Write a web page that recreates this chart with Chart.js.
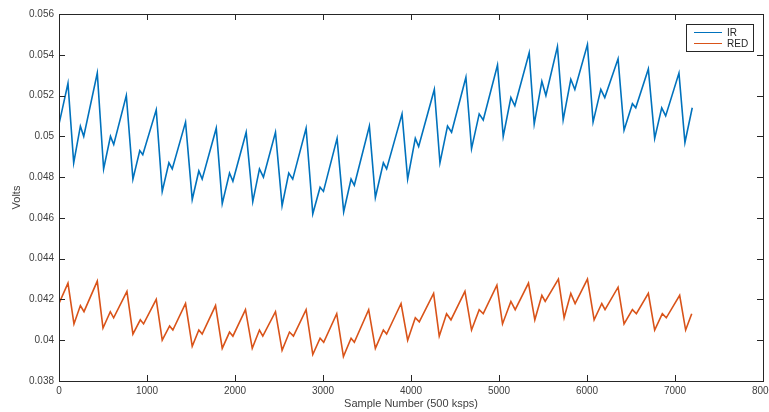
<!DOCTYPE html>
<html>
<head>
<meta charset="utf-8">
<script src="https://cdn.jsdelivr.net/npm/chart.js@4/dist/chart.umd.min.js"></script>
<style>
  body { margin: 0; background: #fff; }
  #wrap { width: 769px; height: 412px; position: relative; }
</style>
</head>
<body>
<div id="wrap"><canvas id="ppg"></canvas></div>
<script>
// Values: sample number + volts at peaks, troughs and dicrotic notches
const irSamples = [0, 102, 167, 243, 281, 435, 507, 585, 622, 765, 840, 918, 952, 1105, 1173, 1249, 1287,
  1438, 1514, 1589, 1627, 1787, 1855, 1938, 1976, 2127, 2202, 2278, 2323, 2460, 2535, 2611, 2656,
  2808, 2884, 2967, 3005, 3160, 3235, 3319, 3356, 3527, 3595, 3686, 3723, 3898, 3962, 4049, 4087,
  4265, 4329, 4415, 4461, 4624, 4688, 4775, 4821, 4983, 5048, 5135, 5180, 5343, 5400, 5487, 5533,
  5664, 5729, 5816, 5862, 6005, 6069, 6157, 6202, 6353, 6421, 6516, 6554, 6697, 6769, 6849, 6894,
  7045, 7113, 7196];
const irVolts = [0.0506, 0.0526, 0.0487, 0.0505, 0.0500, 0.0531, 0.0484, 0.0500, 0.0496, 0.0520, 0.0479, 0.0493, 0.0491, 0.0513, 0.0473, 0.0487, 0.0484,
  0.0507, 0.0469, 0.0483, 0.0479, 0.0504, 0.0467, 0.0482, 0.0478, 0.0502, 0.0468, 0.0484, 0.0480, 0.0502, 0.0466, 0.0482, 0.0479,
  0.0504, 0.0462, 0.0475, 0.0473, 0.0499, 0.0463, 0.0479, 0.0476, 0.0505, 0.0470, 0.0487, 0.0484, 0.0511, 0.0479, 0.0499, 0.0495,
  0.0523, 0.0487, 0.0505, 0.0502, 0.0529, 0.0494, 0.0511, 0.0508, 0.0535, 0.0500, 0.0519, 0.0515, 0.0541, 0.0506, 0.0527, 0.0520,
  0.0544, 0.0508, 0.0528, 0.0523, 0.0545, 0.0507, 0.0523, 0.0519, 0.0538, 0.0503, 0.0516, 0.0514, 0.0533, 0.0499, 0.0514, 0.0510,
  0.0531, 0.0497, 0.0514];

const redSamples = [0, 102, 170, 243, 284, 435, 500, 583, 621, 772, 840, 924, 961, 1105, 1173, 1257, 1294,
  1438, 1514, 1589, 1627, 1779, 1855, 1938, 1976, 2119, 2196, 2278, 2316, 2460, 2535, 2619, 2664,
  2808, 2884, 2967, 3008, 3156, 3232, 3319, 3356, 3519, 3595, 3686, 3723, 3887, 3962, 4049, 4094,
  4257, 4321, 4404, 4454, 4613, 4688, 4775, 4821, 4976, 5040, 5135, 5184, 5335, 5407, 5487, 5525,
  5675, 5740, 5816, 5865, 6005, 6081, 6168, 6205, 6353, 6421, 6516, 6561, 6697, 6769, 6856, 6901,
  7053, 7121, 7190];
const redVolts = [0.0418, 0.0428, 0.0408, 0.0417, 0.0414, 0.0429, 0.0406, 0.0414, 0.0411, 0.0424, 0.0403, 0.0410, 0.0408, 0.0420, 0.0400, 0.0407, 0.0405,
  0.0418, 0.0397, 0.0405, 0.0403, 0.0417, 0.0396, 0.0404, 0.0402, 0.0415, 0.0396, 0.0405, 0.0402, 0.0414, 0.0395, 0.0404, 0.0402,
  0.0415, 0.0393, 0.0401, 0.0399, 0.0413, 0.0392, 0.0401, 0.0399, 0.0415, 0.0396, 0.0405, 0.0403, 0.0418, 0.0400, 0.0411, 0.0409,
  0.0423, 0.0402, 0.0413, 0.0410, 0.0424, 0.0405, 0.0415, 0.0413, 0.0427, 0.0408, 0.0419, 0.0415, 0.0428, 0.0410, 0.0422, 0.0419,
  0.0430, 0.0411, 0.0423, 0.0418, 0.0430, 0.0410, 0.0418, 0.0415, 0.0426, 0.0408, 0.0415, 0.0413, 0.0423, 0.0405, 0.0413, 0.0411,
  0.0422, 0.0405, 0.0413];

const seriesNames = ['IR', 'RED'];
const seriesColors = ['#0072BD', '#D95319'];
const xRange = [0, 8000];
const yRange = [0.038, 0.056];

const FONT = "'Liberation Sans', Arial, sans-serif";
const INK = '#262626';
const TICK = 6;

const toPoints = (xs, ys) => xs.map((s, i) => ({ x: s, y: ys[i] }));

// matlab style box: frame, inward ticks on all four sides, legend in the corner
const boxPlugin = {
  id: 'matlabBox',
  afterDraw(chart) {
    const { ctx, chartArea: a, scales: { x, y } } = chart;
    ctx.save();
    ctx.strokeStyle = INK;
    ctx.lineWidth = 1;
    ctx.strokeRect(a.left + 0.5, a.top + 0.5, a.right - a.left, a.bottom - a.top);

    ctx.beginPath();
    x.ticks.forEach(t => {
      const px = Math.round(x.getPixelForValue(t.value)) + 0.5;
      ctx.moveTo(px, a.bottom); ctx.lineTo(px, a.bottom - TICK);
      ctx.moveTo(px, a.top); ctx.lineTo(px, a.top + TICK);
    });
    y.ticks.forEach(t => {
      const py = Math.round(y.getPixelForValue(t.value)) + 0.5;
      ctx.moveTo(a.left, py); ctx.lineTo(a.left + TICK, py);
      ctx.moveTo(a.right, py); ctx.lineTo(a.right - TICK, py);
    });
    ctx.stroke();

    // legend
    const w = 67, h = 27;
    const lx = a.right - 10 - w, ly = a.top + 10;
    ctx.fillStyle = '#fff';
    ctx.fillRect(lx, ly, w, h);
    ctx.strokeRect(lx + 0.5, ly + 0.5, w, h);
    ctx.font = '10px ' + FONT;
    ctx.textBaseline = 'middle';
    chart.data.datasets.forEach((ds, i) => {
      const rowY = ly + 8 + i * 11;
      ctx.strokeStyle = ds.borderColor;
      ctx.beginPath();
      ctx.moveTo(lx + 8, rowY + 0.5);
      ctx.lineTo(lx + 36, rowY + 0.5);
      ctx.stroke();
      ctx.fillStyle = INK;
      ctx.fillText(ds.label, lx + 41, rowY + 1);
    });
    ctx.restore();
  }
};

new Chart(document.getElementById('ppg'), {
  type: 'line',
  data: {
    datasets: [
      {
        label: seriesNames[0],
        data: toPoints(irSamples, irVolts),
        borderColor: seriesColors[0],
        borderWidth: 1.6,
        pointRadius: 0,
        tension: 0
      },
      {
        label: seriesNames[1],
        data: toPoints(redSamples, redVolts),
        borderColor: seriesColors[1],
        borderWidth: 1.6,
        pointRadius: 0,
        tension: 0
      }
    ]
  },
  options: {
    responsive: true,
    maintainAspectRatio: false,
    animation: false,
    layout: { padding: { top: 14, right: 6, left: 0, bottom: 0 } },
    plugins: {
      legend: { display: false },
      tooltip: { enabled: false }
    },
    scales: {
      x: {
        type: 'linear',
        min: xRange[0],
        max: xRange[1],
        grid: { display: false, drawTicks: false },
        border: { display: false },
        ticks: {
          stepSize: 1000,
          autoSkip: false,
          maxRotation: 0,
          padding: 4,
          color: '#404040',
          font: { family: FONT, size: 10 },
          callback: v => String(v)
        },
        title: {
          display: true,
          text: 'Sample Number (500 ksps)',
          color: '#404040',
          font: { family: FONT, size: 11 },
          padding: { top: 0, bottom: 1 }
        },
        afterFit: s => { s.height = 31; s.paddingLeft = 0; s.paddingRight = 0; }
      },
      y: {
        min: yRange[0],
        max: yRange[1],
        grid: { display: false, drawTicks: false },
        border: { display: false },
        ticks: {
          stepSize: 0.002,
          padding: 5,
          color: '#404040',
          font: { family: FONT, size: 10 },
          callback: v => String(parseFloat(v.toFixed(4)))
        },
        title: {
          display: true,
          text: 'Volts',
          color: '#404040',
          font: { family: FONT, size: 11 },
          padding: { top: 10, bottom: 0 }
        },
        afterFit: s => { s.width = 59; s.paddingTop = 0; s.paddingBottom = 0; }
      }
    }
  },
  plugins: [boxPlugin]
});
</script>
</body>
</html>
